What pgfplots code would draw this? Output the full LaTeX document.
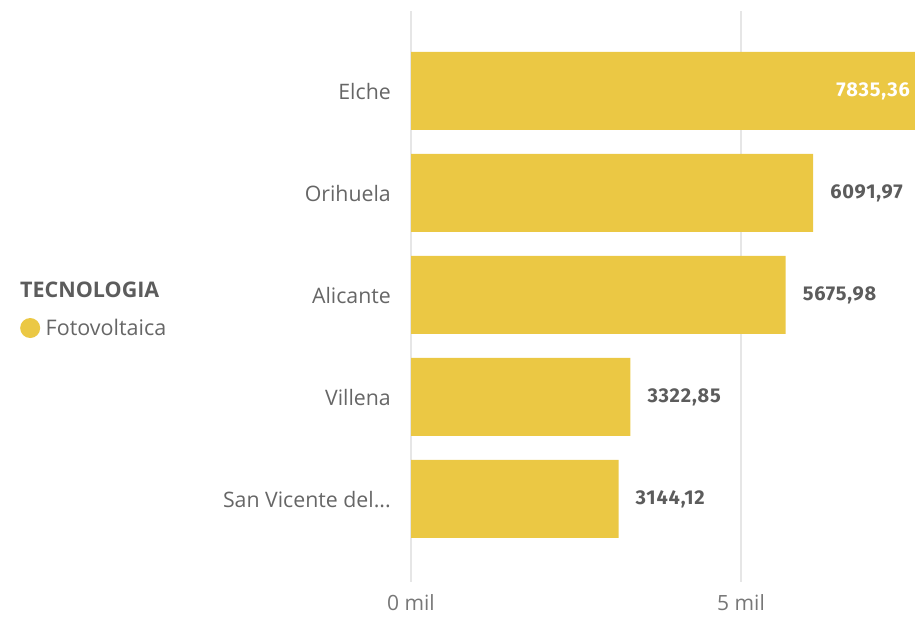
\documentclass[border=0pt]{standalone}
\usepackage{fontspec}
\setmainfont{Open Sans}
\newfontfamily\valfont{Fira Sans}
\usepackage{pgfplots}
\pgfplotsset{compat=1.18}
\definecolor{barc}{HTML}{EBC844}
\definecolor{cattext}{HTML}{666666}
\definecolor{valtext}{HTML}{5C5C5C}
\definecolor{ticktext}{HTML}{777777}
\definecolor{gridc}{HTML}{E6E6E6}
\newcommand{\sanv}{San Vicente del{.}{.}{.}}
\begin{document}
\begin{tikzpicture}
\path[use as bounding box] (0pt,0pt) rectangle (915pt,616pt);
\node[anchor=west, inner sep=0pt, text=valtext, font=\fontsize{21.5}{25}\selectfont\bfseries] at (20pt,326pt) {TECNOLOGIA};
\begin{axis}[
  at={(411pt,34pt)}, anchor=south west,
  scale only axis, width=504pt, height=571pt,
  xmin=0, xmax=7636,
  ymin=-0.784, ymax=4.814, y dir=reverse,
  ytick={0,1,2,3,4},
  yticklabels={Elche,Orihuela,Alicante,Villena,\sanv},
  xtick={0,5000}, xticklabels={0 mil,5 mil},
  axis line style={draw=none}, major tick length=0pt, tick style={draw=none},
  xmajorgrids, grid style={color=gridc, line width=1.5pt},
  yticklabel style={anchor=east, inner sep=0pt, xshift=-20pt, yshift=-1pt, text=cattext, font=\fontsize{21.3}{25}\selectfont},
  xticklabel style={anchor=center, inner sep=0pt, yshift=-21pt, text=ticktext, font=\fontsize{21}{25}\selectfont},
  legend style={at={(-0.7758,0.4448)}, anchor=west, draw=none, fill=none, inner sep=0pt,
    font=\fontsize{21.5}{25}\selectfont, text=cattext, nodes={inner sep=2.5pt},
    /tikz/every odd column/.append style={column sep=3pt}},
  legend cell align=left,
  legend image code/.code={\fill[barc] (0pt,0pt) circle (10pt);},
]
\addplot[xbar, fill=barc, draw=none, bar width=78pt] coordinates {
  (7835.36,0) (6091.97,1) (5675.98,2) (3322.85,3) (3144.12,4)
};
\addlegendentry{Fotovoltaica}
\addplot[xbar, draw=none, fill=none, bar width=78pt, forget plot,
  point meta=x,
  nodes near coords,
  nodes near coords style={anchor=west, inner sep=0pt, xshift=17pt, text=valtext,
    font=\valfont\addfontfeature{LetterSpace=4}\bfseries\fontsize{20}{24}\selectfont,
    /pgf/number format/.cd, fixed, precision=2, fixed zerofill, use comma, 1000 sep={}, assume math mode=true},
] coordinates {
  (6091.97,1) (5675.98,2) (3322.85,3) (3144.12,4)
};
\addplot[xbar, draw=none, fill=none, bar width=78pt, forget plot,
  point meta=explicit,
  nodes near coords,
  nodes near coords style={anchor=east, inner sep=0pt, xshift=-5pt, text=white,
    font=\valfont\addfontfeature{LetterSpace=4}\bfseries\fontsize{20}{24}\selectfont,
    /pgf/number format/.cd, fixed, precision=2, fixed zerofill, use comma, 1000 sep={}, assume math mode=true},
] coordinates {
  (7636,0) [7835.36]
};
\end{axis}
\end{tikzpicture}
\end{document}
